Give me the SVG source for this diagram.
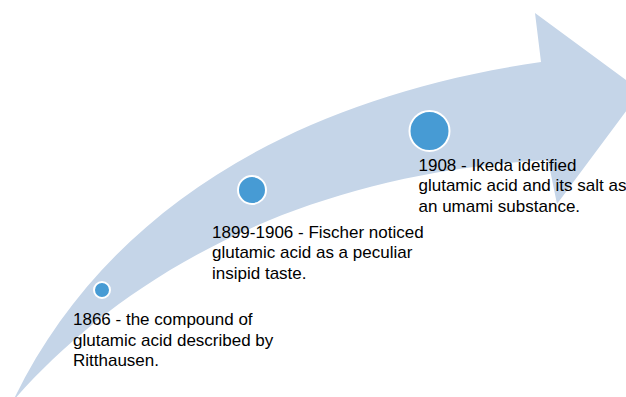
<svg xmlns="http://www.w3.org/2000/svg" width="626" height="397" viewBox="0 0 626 397">
<style>
.band{fill:#c5d5e8;stroke:none}
.dot{fill:#479bd4;stroke:#ffffff;stroke-width:2}
.lbl{font-family:"Liberation Sans",Arial,sans-serif;font-size:17px;fill:#000000}
</style>
<rect width="626" height="397" fill="#ffffff"/>
<g id="timeline-arrow">
<path class="band" d="M13,401 C100,220 280,100 541,62 L535,13 L641,91 L557,204 L548,160 C280,175 110,290 13,401 Z"/>
</g>
<g id="event-1866">
<circle class="dot" cx="102" cy="290" r="8"/>
<text class="lbl" x="73" y="325">1866 - the compound of</text>
<text class="lbl" x="73" y="345.5">glutamic acid described by</text>
<text class="lbl" x="73" y="366">Ritthausen.</text>
</g>
<g id="event-1899">
<circle class="dot" cx="252" cy="190" r="14"/>
<text class="lbl" x="212" y="237.5">1899-1906 - Fischer noticed</text>
<text class="lbl" x="212" y="258">glutamic acid as a peculiar</text>
<text class="lbl" x="212" y="278.5">insipid taste.</text>
</g>
<g id="event-1908">
<circle class="dot" cx="429.5" cy="131" r="20"/>
<text class="lbl" x="418.5" y="170.5">1908 - Ikeda idetified</text>
<text class="lbl" x="418.5" y="191">glutamic acid and its salt as</text>
<text class="lbl" x="418.5" y="211.5">an umami substance.</text>
</g>
</svg>
